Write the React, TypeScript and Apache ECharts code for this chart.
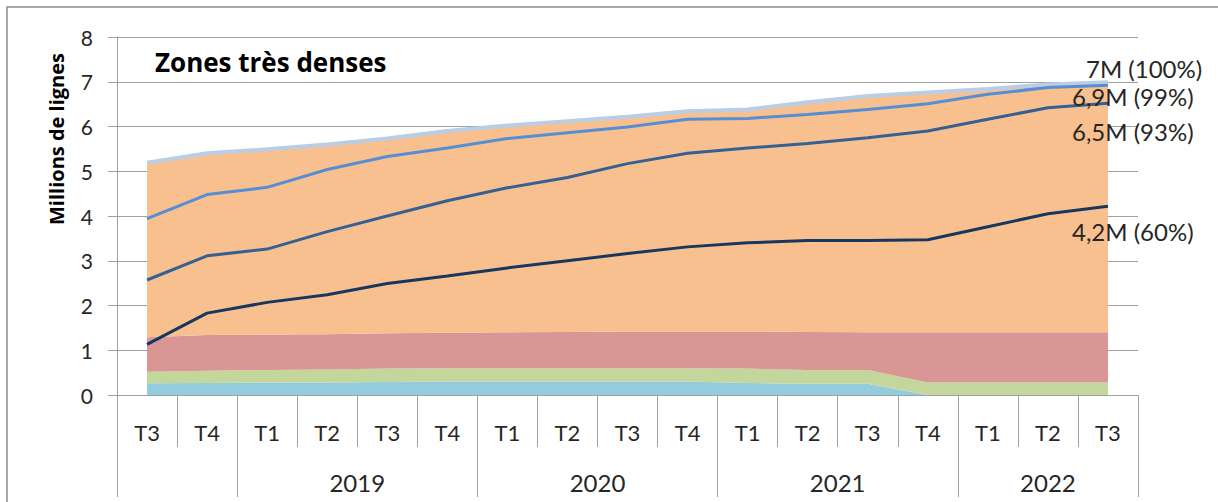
import React, { useEffect, useRef } from "react";
import * as echarts from "echarts";

const categories = ["T3", "T4", "T1", "T2", "T3", "T4", "T1", "T2", "T3", "T4", "T1", "T2", "T3", "T4", "T1", "T2", "T3"];
const yearGroups = [
  { label: "", start: 0, end: 2 },
  { label: "2019", start: 2, end: 6 },
  { label: "2020", start: 6, end: 10 },
  { label: "2021", start: 10, end: 14 },
  { label: "2022", start: 14, end: 17 },
];

// stacked layers (millions de lignes)
const layerCyan = [0.26, 0.27, 0.28, 0.28, 0.29, 0.3, 0.3, 0.3, 0.3, 0.3, 0.27, 0.25, 0.25, 0, 0, 0, 0];
const layerGreen = [0.26, 0.27, 0.28, 0.29, 0.3, 0.3, 0.3, 0.3, 0.3, 0.3, 0.32, 0.31, 0.31, 0.28, 0.28, 0.28, 0.28];
const layerPink = [0.77, 0.8, 0.79, 0.79, 0.79, 0.79, 0.8, 0.81, 0.82, 0.82, 0.83, 0.85, 0.84, 1.12, 1.12, 1.12, 1.12];
const layerOrange = [3.9, 4.06, 4.14, 4.24, 4.35, 4.51, 4.62, 4.71, 4.8, 4.92, 4.96, 5.13, 5.28, 5.36, 5.44, 5.54, 5.59];

// lines
const lineTotal = [5.19, 5.4, 5.49, 5.6, 5.73, 5.9, 6.02, 6.12, 6.22, 6.34, 6.38, 6.54, 6.68, 6.76, 6.84, 6.94, 6.99];
const line99 = [3.94, 4.48, 4.64, 5.04, 5.33, 5.52, 5.73, 5.86, 5.99, 6.16, 6.18, 6.27, 6.38, 6.51, 6.72, 6.87, 6.92];
const line93 = [2.57, 3.11, 3.26, 3.65, 4.0, 4.34, 4.63, 4.86, 5.17, 5.4, 5.52, 5.62, 5.75, 5.9, 6.16, 6.42, 6.52];
const line60 = [1.13, 1.83, 2.07, 2.24, 2.49, 2.66, 2.84, 3.0, 3.16, 3.31, 3.4, 3.45, 3.45, 3.47, 3.76, 4.05, 4.22];

const endLabels = ["7M (100%)", "6,9M (99%)", "6,5M (93%)", "4,2M (60%)"];
const yTicks = { min: 0, max: 8, interval: 1 };
const titleText = "Zones très denses";
const yName = "Millions de lignes";

const FONT = "Lato";
const BOLD_FONT = "Open Sans";
const TXT = "#262626";
const GRID = "#A0A0A0";

export default function App() {
  const ref = useRef<HTMLDivElement>(null);
  useEffect(() => {
    if (!ref.current) return;
    const chart = echarts.init(ref.current, undefined, { renderer: "svg" });

    // half-step year axis (2 slots per category, boundaryGap false)
    const n = categories.length * 2 + 1;
    const yearData: string[] = new Array(n).fill("");
    const yearBounds: number[] = [];
    yearGroups.forEach((g) => {
      yearBounds.push(g.start * 2);
      if (g.label) yearData[g.start + g.end] = g.label;
    });
    yearBounds.push(categories.length * 2);
    const yearDataUnique = yearData.map((v, i) => (v === "" ? " ".repeat(i + 1) : v));

    const area = (name: string, data: number[], color: string) => ({
      name,
      type: "line",
      stack: "total",
      data,
      symbol: "none",
      lineStyle: { width: 0 },
      areaStyle: { color, opacity: 1 },
      z: 1,
    });
    const line = (name: string, data: number[], color: string, width: number, label: string, offset: number[]) => ({
      name,
      type: "line",
      data,
      symbol: "none",
      lineStyle: { color, width },
      z: 3,
      endLabel: {
        show: true,
        formatter: label,
        distance: 0,
        offset,
        fontFamily: FONT,
        fontSize: 24,
        color: TXT,
      },
    });

    chart.setOption({
      animation: false,
      backgroundColor: "#fff",
      graphic: [
        {
          type: "rect",
          shape: { x: 7, y: 7, width: 1400, height: 700 },
          style: { fill: "none", stroke: "#8C8C8C", lineWidth: 1.5 },
          silent: true,
        },
        {
          type: "text",
          x: 155,
          y: 62,
          style: {
            text: titleText,
            font: `bold 26px "${BOLD_FONT}"`,
            fill: "#000",
            align: "left",
            verticalAlign: "middle",
          },
          z: 10,
        },
        {
          type: "text",
          x: 56.5,
          y: 139,
          rotation: Math.PI / 2,
          style: {
            text: yName,
            font: `bold 20px "${BOLD_FONT}"`,
            fill: "#000",
            align: "center",
            verticalAlign: "middle",
          },
          z: 10,
        },
      ],
      grid: { left: 117, right: 80, top: 37, bottom: 107 },
      xAxis: [
        {
          type: "category",
          data: categories,
          boundaryGap: true,
          axisLine: { show: true, lineStyle: { color: GRID, width: 1 } },
          axisTick: { show: true, interval: 0, length: 52, lineStyle: { color: GRID } },
          axisLabel: { interval: 0, margin: 26, fontFamily: FONT, fontSize: 22, color: TXT },
          splitLine: { show: false },
        },
        {
          type: "category",
          data: yearDataUnique,
          boundaryGap: false,
          position: "bottom",
          axisLine: { show: false },
          axisTick: {
            show: true,
            length: 102,
            interval: (i: number) => yearBounds.includes(i),
            lineStyle: { color: GRID },
          },
          axisLabel: {
            interval: (i: number) => yearData[i] !== "",
            formatter: (v: string) => v.trim(),
            margin: 75,
            fontFamily: FONT,
            fontSize: 24,
            color: TXT,
          },
          splitLine: { show: false },
        },
      ],
      yAxis: {
        type: "value",
        min: yTicks.min,
        max: yTicks.max,
        interval: yTicks.interval,
        axisLine: { show: true, lineStyle: { color: GRID } },
        axisTick: { show: true, length: 9, lineStyle: { color: GRID } },
        axisLabel: { margin: 24, fontFamily: FONT, fontSize: 21, color: TXT },
        splitLine: { show: true, lineStyle: { color: GRID, width: 1 } },
      },
      series: [
        area("Cyan", layerCyan, "#93CDDD"),
        area("Vert", layerGreen, "#C3D69B"),
        area("Rose", layerPink, "#D99694"),
        area("Orange", layerOrange, "#F9C08F"),
        line("Total", lineTotal, "#B9CDE5", 4, endLabels[0], [-22, -14]),
        line("99%", line99, "#558ED5", 3, endLabels[1], [-36, 11]),
        line("93%", line93, "#376092", 3, endLabels[2], [-36, 28]),
        line("60%", line60, "#17375E", 3, endLabels[3], [-36, 25]),
      ],
    });
    return () => chart.dispose();
  }, []);
  return <div ref={ref} style={{ position: "fixed", left: 0, top: 0, width: 1218, height: 502 }} />;
}
